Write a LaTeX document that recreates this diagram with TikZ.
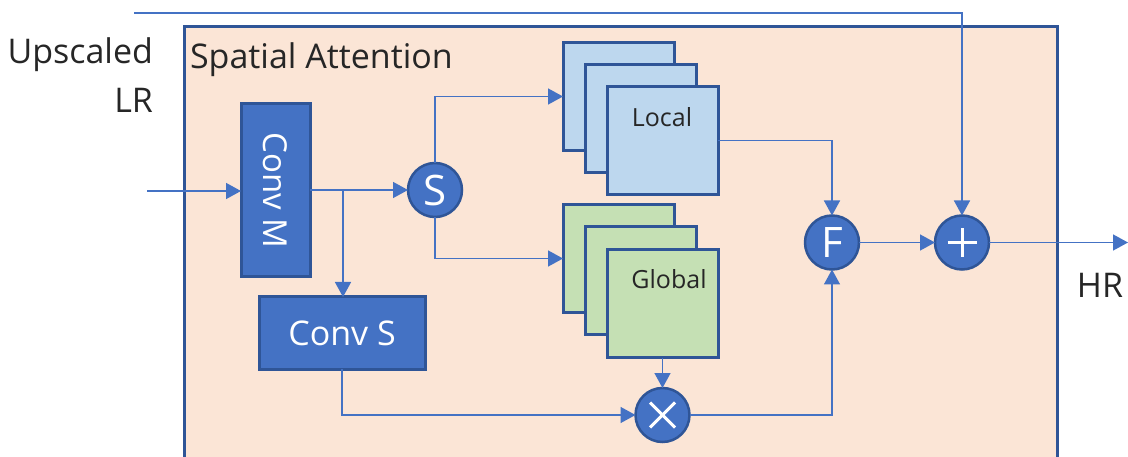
\documentclass[tikz,border=0pt]{standalone}
\usepackage{fontspec}
\setmainfont{Open Sans}
\usetikzlibrary{arrows.meta,positioning}
\definecolor{accent}{HTML}{4472C4}
\definecolor{edgeblue}{HTML}{2F5597}
\definecolor{peach}{HTML}{FBE5D6}
\definecolor{lblue}{HTML}{BDD7EE}
\definecolor{lgreen}{HTML}{C5E0B4}
\definecolor{txt}{HTML}{262626}
\tikzset{
  every node/.style={inner sep=0pt, outer sep=0pt},
  conv/.style={draw=edgeblue, line width=3pt, fill=accent},
  opnode/.style={circle, draw=edgeblue, line width=2.5pt, fill=accent, minimum size=54pt, text=white, font=\fontsize{42}{42}\selectfont},
  fmap/.style={draw=edgeblue, line width=3pt, minimum width=111pt, minimum height=108pt},
  lbl/.style={text=txt, font=\fontsize{34}{40}\selectfont},
  arr/.style={draw=accent, line width=1.5pt, -{Triangle[length=15pt,width=16pt]}},
  sym/.style={draw=white, line width=3pt}
}
\begin{document}
\begin{tikzpicture}[x=1pt,y=-1pt]
\useasboundingbox (0,0) rectangle (1128,457);
% outer box
\path[fill=peach, draw=edgeblue, line width=3pt] (184,27) rectangle (1057,470);
\node[lbl, anchor=west] (title) at (190,60) {Spatial Attention};
\node[lbl, anchor=east] (up) at (153,55) {Upscaled};
\node[lbl, anchor=east] (lr) at (153,100) {LR};
\node[lbl] (hr) at (1100,285) {HR};
% convs
\node[conv, minimum width=69pt, minimum height=173pt] (convM) at (275.5,190.5) {};
\node[rotate=-90, text=white, font=\fontsize{33}{38}\selectfont] (convMt) at (convM) {Conv M};
\node[conv, minimum width=166pt, minimum height=72pt, text=white, font=\fontsize{34}{38}\selectfont] (convS) at (342,333) {Conv S};
% ops
\node[opnode] (S) at (435,190) {S};
\node[opnode] (F) at (832,242.5) {F};
\node[opnode] (P) at (962,242.5) {};
\node[opnode] (X) at (662.5,415) {};
\draw[sym] ([xshift=-14.5pt]P.center) -- ([xshift=14.5pt]P.center);
\draw[sym] ([yshift=-14.5pt]P.center) -- ([yshift=14.5pt]P.center);
\draw[sym] ([shift={(-12.5pt,-12.5pt)}]X.center) -- ([shift={(12.5pt,12.5pt)}]X.center);
\draw[sym] ([shift={(-12.5pt,12.5pt)}]X.center) -- ([shift={(12.5pt,-12.5pt)}]X.center);
% feature maps
\node[fmap, fill=lblue] (L1) at (618.5,96.5) {};
\node[fmap, fill=lblue] (L2) at (640.5,118.5) {};
\node[fmap, fill=lblue] (L3) at (662.5,140.5) {};
\node[text=txt, font=\fontsize{25}{30}\selectfont] (Lt) at (662,117) {Local};
\node[fmap, fill=lgreen] (G1) at (618.5,258.5) {};
\node[fmap, fill=lgreen] (G2) at (640.5,280.5) {};
\node[fmap, fill=lgreen] (G3) at (662.5,303.5) {};
\node[text=txt, font=\fontsize{25}{30}\selectfont] (Gt) at (669,279) {Global};
% connectors
\coordinate (in) at (147,191);
\coordinate (br) at (343,190);
\coordinate (top) at (134,13);
\coordinate (out) at (1128,242.5);
\draw[arr] (in) -- (in -| convM.west);
\draw[arr] (convM.east |- S) -- (S.west);
\draw[arr] (br) -- (br |- convS.north);
\draw[arr] (S.north) |- (L1.west);
\draw[arr] (S.south) |- (G1.west);
\draw[arr] (L3.east) -| (F.north);
\draw[arr] (G3.south) -- (X.north);
\draw[arr] (convS.south) |- (X.west);
\draw[arr] (X.east) -| (F.south);
\draw[arr] (F.east) -- (P.west);
\draw[arr] (P.east) -- (out);
\draw[arr] (top) -| (P.north);
\end{tikzpicture}
\end{document}
